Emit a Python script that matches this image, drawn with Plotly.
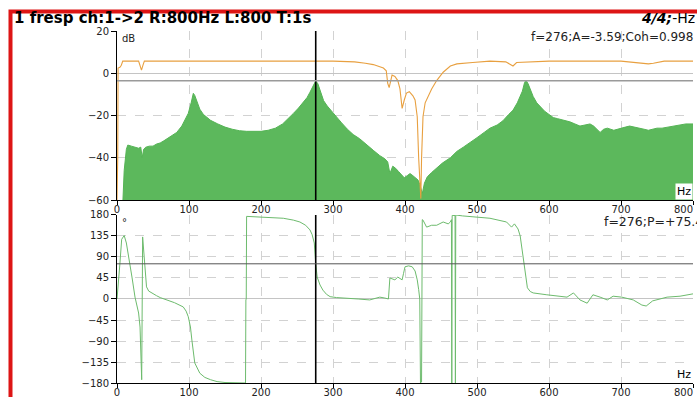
import plotly.graph_objects as go

# ---------------- data ----------------
amp_f = [8, 10, 13, 15, 20, 25, 30, 33, 35, 37, 40, 45, 50, 55, 60, 65, 70, 76, 83, 90,
         95, 99, 103, 106, 108, 111, 115, 120, 125, 130, 140, 150, 160, 170, 180, 190, 200, 210, 220, 230,
         238, 245, 252, 258, 264, 268, 272, 276, 279, 283, 287, 292, 298, 305, 312, 320, 328, 337, 345, 356,
         365, 372, 376, 379, 383, 387, 391, 395, 399, 403, 407, 411, 415, 418, 421, 424, 427, 431, 437, 444,
         452, 463, 472, 481, 490, 500, 510, 518, 528, 536, 544, 550, 556, 560, 563, 566, 568, 571, 574, 578,
         583, 588, 594, 600, 606, 612, 618, 624, 629, 636, 643, 650, 657, 662, 666, 671, 676, 681, 690, 699,
         706, 712, 720, 726, 732, 738, 744, 750, 757, 764, 772, 782, 790, 800]
amp_db = [-62, -46, -36, -34, -34.5, -35, -35.5, -35, -40, -36, -35, -34.5, -34.5, -33.5, -33, -32, -31, -29.5, -28, -25,
          -22, -19, -14, -9.5, -10.5, -13.5, -17, -19.5, -21, -22.3, -24, -25.5, -26.5, -27.2, -27.5, -27.6, -27.5, -27, -26, -24,
          -21.5, -19, -16.5, -14, -11.5, -9, -6, -3.6, -5, -9, -13, -15.5, -18, -20.5, -23.5, -26.5, -29, -31, -33.5, -36.5,
          -39, -40.5, -42, -47.5, -44, -45, -46.5, -48, -49.5, -48.5, -47.5, -48.5, -49.5, -50.5, -53, -57, -52, -49, -47, -45,
          -42.5, -40, -37, -35, -33, -30.5, -28, -26, -24.5, -22.5, -19.5, -17.5, -14, -11, -8.5, -4.5, -3.3, -5, -8, -11,
          -14, -16, -18, -19.5, -21, -21.5, -22, -22.5, -23, -24, -25, -24.5, -24, -25, -26.5, -28, -26.5, -26, -27, -26,
          -25.5, -25, -25.5, -26, -26.5, -27, -26.5, -26, -26, -25.5, -25, -24.5, -24, -24]

coh_f = [0, 1, 1.5, 4, 6, 8, 30, 32, 34, 36, 38, 300, 330, 345, 356, 365, 370, 374, 376, 378,
         382, 386, 390, 393, 396, 399, 402, 406, 411, 414, 417, 419, 421, 422, 423, 425, 428, 432, 437, 444,
         453, 463, 472, 494, 518, 540, 546, 550, 555, 600, 700, 725, 738, 745, 760, 800]
coh = [0, 0.3, 0.95, 0.955, 0.97, 1.0, 1.0, 0.96, 0.935, 0.97, 1.0, 1.0, 0.995, 0.985, 0.975, 0.96, 0.95, 0.93, 0.84, 0.81,
       0.9, 0.89, 0.86, 0.8, 0.66, 0.72, 0.77, 0.78, 0.75, 0.72, 0.6, 0.3, 0.05, 0.01, 0.3, 0.6, 0.7, 0.75, 0.8, 0.86,
       0.92, 0.965, 0.98, 0.99, 1.0, 0.995, 0.98, 0.965, 0.99, 1.0, 1.0, 0.99, 0.98, 0.985, 1.0, 1.0]

ph_f = [0, 2, 4, 6.5, 10, 13, 18, 21, 25, 30, 32, 33.3, 34.3, 35.6, 37.5, 39, 41, 44, 48, 55,
        60, 70, 80, 92, 96, 99, 102, 104, 108, 115, 122, 130, 139, 150, 161, 170, 178.5, 179, 179.5, 180,
        190, 199, 215, 231, 245, 254, 262, 268, 271, 274, 276, 278, 282, 286, 291, 296, 305, 319, 335, 351,
        365, 372, 375, 377, 379, 383, 386, 390, 393, 396, 398, 400, 405, 410, 414, 417, 419, 420.5, 421.5, 423,
        424, 425, 430, 437, 444, 453, 460, 463, 464.5, 465, 465.5, 469.5, 470, 470.5, 480, 494, 518, 541, 548, 552,
        557, 560, 562, 565, 567, 570, 574, 578, 597, 610, 625, 634, 643, 653, 661, 671, 681, 689, 701, 717,
        729, 735, 744, 764, 782, 800]
ph_deg = [0, 30, 75, 128, 136, 120, 77, 45, 4, -30, -60, -145, -173, 133, 88, 55, 26, 17, 13, 7,
          3, -3, -8, -17, -26, -38, -60, -88, -137, -159, -168, -173, -177, -179, -180, -180, -180, -2, 0, 177,
          176, 175, 174, 173, 169, 165, 158, 148, 138, 120, 75, 47, 30, 19, 10, 5, 3, 2, 0, -2,
          4, 2, 0, 0, 45, 43, 41, 47, 44, 41, 55, 69, 71, 69, 60, 41, 20, 0, -180, -178,
          170, 169, 154, 158, 158, 165, 161, 165, 170, -180, 179, 179, -180, 180, 178, 176, 173, 165, 154, 161,
          150, 135, 112, 85, 62, 24, 16, 13, 9, 6, 4, 13, -2, -9, 9, 4, -2, 6, 4, -2,
          -13, -15, -4, 4, 6, 11]

base_f = [amp_f[0], amp_f[-1]]
base_db = [-100, -100]

x_ticks = [0, 100, 200, 300, 400, 500, 600, 700, 800]
x_tick_labels = ["0", "100", "200", "300", "400", "500", "600", "700", "800"]
db_ticks = [-60, -40, -20, 0, 20]
ph_ticks = [-180, -135, -90, -45, 0, 45, 90, 135, 180]

cursor_f = 276
cursor_a = -3.59
cursor_p = 75.4
cursor_coh = 0.998

title_text = "1 fresp ch:1->2 R:800Hz L:800 T:1s"

# last tick label is pulled inside the plot like in the original (invisible padding)
x_tick_text = x_tick_labels[:-1] + [x_tick_labels[-1] + "<span style='color:rgba(0,0,0,0)'>000</span>"]

# ---------------- figure ----------------
fig = go.Figure()
fig.add_trace(go.Scatter(x=base_f, y=base_db, mode="lines", line=dict(width=0, color="rgba(0,0,0,0)"),
                         xaxis="x", yaxis="y", hoverinfo="skip"))
fig.add_trace(go.Scatter(x=amp_f, y=amp_db, mode="lines", fill="tonexty",
                         fillcolor="#5cb85c", line=dict(width=1, color="#55b455"),
                         xaxis="x", yaxis="y"))
fig.add_trace(go.Scatter(x=coh_f, y=coh, mode="lines", line=dict(width=1.1, color="#e8a040"),
                         xaxis="x", yaxis="y3"))
fig.add_trace(go.Scatter(x=ph_f, y=ph_deg, mode="lines", line=dict(width=1, color="#6dbb6d"),
                         xaxis="x2", yaxis="y2"))

tickfont = dict(family="DejaVu Sans", size=10, color="#222")
common_x = dict(range=[0, 800], tickvals=x_ticks, ticktext=x_tick_text, ticks="outside", ticklen=4,
                tickcolor="#000", showline=True, linecolor="#000", linewidth=1, showgrid=True,
                gridcolor="#d2d2d2", griddash="dash", zeroline=False, tickfont=tickfont, fixedrange=True,
                ticklabeloverflow="allow", automargin=False, ticklabelstandoff=-4)
common_y = dict(ticks="outside", ticklen=5, tickcolor="#000", showline=True, linecolor="#000", linewidth=1,
                showgrid=True, gridcolor="#d2d2d2", griddash="dash", zeroline=True,
                zerolinecolor="#c4c4c4", zerolinewidth=1, tickfont=tickfont, fixedrange=True,
                ticklabeloverflow="allow", automargin=False)

fig.update_layout(
    width=697, height=397,
    margin=dict(l=117, r=4, t=31, b=14, autoexpand=False),
    paper_bgcolor="white", plot_bgcolor="white",
    showlegend=False,
    xaxis=dict(domain=[0, 1], anchor="y", **common_x),
    yaxis=dict(domain=[0.5199, 1], anchor="x", range=[-60, 20], tickvals=db_ticks, **common_y),
    yaxis3=dict(overlaying="y", range=[0, 1.217], visible=False, fixedrange=True),
    xaxis2=dict(domain=[0, 1], anchor="y2", **common_x),
    yaxis2=dict(domain=[0, 0.4773], anchor="x2", range=[-180, 180], tickvals=ph_ticks, **common_y),
)

shapes = [
    dict(type="line", xref="x", yref="y domain", x0=cursor_f, x1=cursor_f, y0=0, y1=1,
         line=dict(color="#000", width=1.6)),
    dict(type="line", xref="x2", yref="y2 domain", x0=cursor_f, x1=cursor_f, y0=0, y1=1,
         line=dict(color="#000", width=1.6)),
    dict(type="line", xref="x domain", yref="y", x0=0, x1=1, y0=cursor_a, y1=cursor_a,
         line=dict(color="#9a9a9a", width=1.5)),
    dict(type="line", xref="x2 domain", yref="y2", x0=0, x1=1, y0=cursor_p, y1=cursor_p,
         line=dict(color="#555", width=1)),
    dict(type="rect", xref="paper", yref="paper", x0=-0.1849, x1=1.3, y0=-0.3, y1=1.0554,
         line=dict(color="#dd1515", width=4), fillcolor="rgba(0,0,0,0)"),
]
fig.update_layout(shapes=shapes)

small = dict(family="DejaVu Sans", size=10, color="#222")
annotations = [
    dict(text="<b>" + title_text + "</b>", xref="paper", yref="paper", x=-0.1823, y=1.037,
         xanchor="left", yanchor="middle", showarrow=False,
         font=dict(family="DejaVu Sans", size=15, color="#000")),
    dict(text="<b><i>4/4;</i></b>-Hz", xref="paper", yref="paper", x=1.007, y=1.037,
         xanchor="right", yanchor="middle", showarrow=False,
         font=dict(family="DejaVu Sans", size=14, color="#000")),
    dict(text=f"f={cursor_f};A={cursor_a};Coh={cursor_coh}", xref="paper", yref="paper",
         x=0.7153, y=0.983, xanchor="left", yanchor="middle", showarrow=False,
         font=dict(family="DejaVu Sans", size=12, color="#222")),
    dict(text=f"f={cursor_f};P=+{cursor_p}", xref="paper", yref="paper",
         x=0.842, y=0.4574, xanchor="left", yanchor="middle", showarrow=False,
         font=dict(family="DejaVu Sans", size=12.5, color="#222")),
    dict(text="dB", xref="x domain", yref="y domain", x=0.006, y=1.0, xanchor="left", yanchor="top",
         showarrow=False, font=small),
    dict(text="°", xref="x2 domain", yref="y2 domain", x=0.006, y=1.0, xanchor="left", yanchor="top",
         showarrow=False, font=small),
    dict(text="Hz", xref="x domain", yref="y domain", x=1.0, y=0.0, xanchor="right", yanchor="bottom",
         showarrow=False, font=dict(family="DejaVu Sans", size=11, color="#000"), bgcolor="white"),
    dict(text="Hz", xref="x2 domain", yref="y2 domain", x=1.0, y=0.0, xanchor="right", yanchor="bottom",
         showarrow=False, font=dict(family="DejaVu Sans", size=11, color="#000")),
]
fig.update_layout(annotations=annotations)

fig.write_html("out.html")
